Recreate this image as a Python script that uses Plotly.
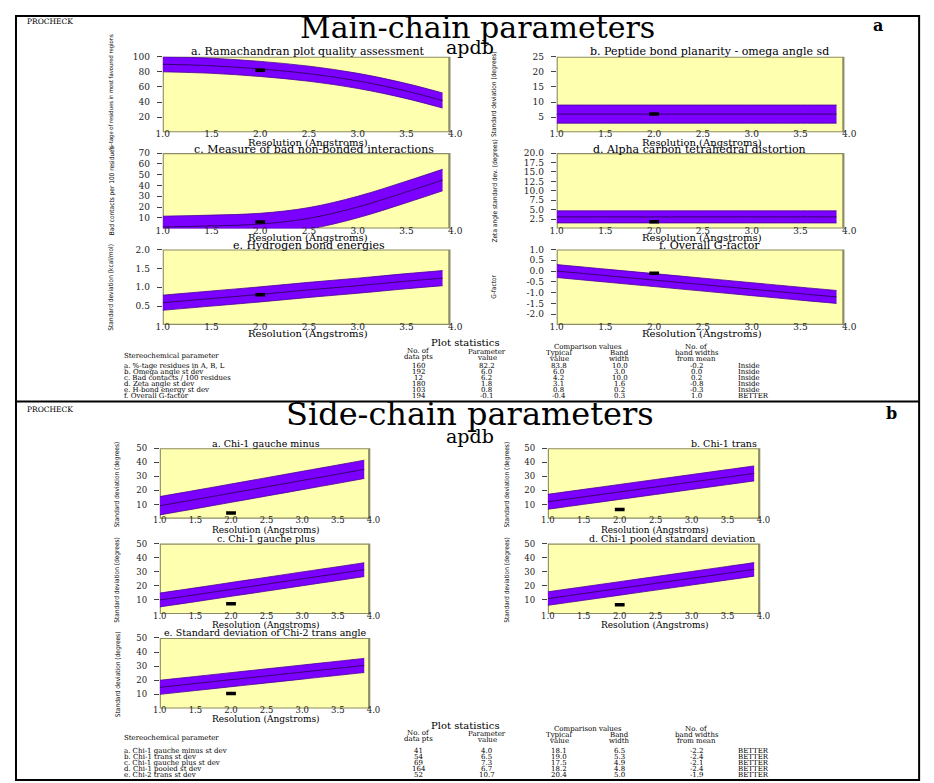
import plotly.graph_objects as go

# page (browser window) size and the plot placed inside the default 8px body margin
PAGE_W, PAGE_H = 934, 783
OX, OY = 8, 8
FW, FH = PAGE_W - OX, PAGE_H - OY

# ---------------- data ----------------
resolution = [1.0, 1.5, 2.0, 2.5, 3.0, 3.5, 3.87]
x_ticks = [1.0, 1.5, 2.0, 2.5, 3.0, 3.5, 4.0]
x_tick_labels = ["1.0", "1.5", "2.0", "2.5", "3.0", "3.5", "4.0"]

# main-chain band centres (typical value vs resolution)
rama_centre = [90.0, 88.0, 83.8, 77.5, 68.0, 54.5, 42.0]
omega_centre = [6.0, 6.0, 6.0, 6.0, 6.0, 6.0, 6.0]
contacts_centre = [1.5, 2.5, 4.2, 9.5, 20.0, 34.0, 45.0]
zeta_centre = [3.1, 3.1, 3.1, 3.1, 3.1, 3.1, 3.1]
hbond_centre = [0.59, 0.70, 0.81, 0.93, 1.04, 1.16, 1.24]
gfactor_centre = [0.0, -0.21, -0.42, -0.63, -0.84, -1.05, -1.20]

# side-chain band centres
chi1_gminus_centre = [9.2, 13.6, 18.1, 22.6, 27.1, 31.6, 35.0]
chi1_trans_centre = [12.0, 15.5, 19.0, 22.5, 26.0, 29.5, 32.1]
chi1_gplus_centre = [10.0, 13.7, 17.5, 21.2, 25.0, 28.7, 31.5]
chi1_pooled_centre = [11.0, 14.6, 18.2, 21.8, 25.4, 29.0, 31.7]
chi2_trans_centre = [15.0, 17.7, 20.4, 23.1, 25.8, 28.5, 30.5]

# plot statistics tables
main_params = ["a. %-tage residues in A, B, L", "b. Omega angle st dev",
               "c. Bad contacts / 100 residues", "d. Zeta angle st dev",
               "e. H-bond energy st dev", "f. Overall G-factor"]
main_npts = [160, 192, 12, 180, 103, 194]
main_value = [82.2, 6.0, 6.2, 1.8, 0.8, -0.1]
main_typical = [83.8, 6.0, 4.2, 3.1, 0.8, -0.4]
main_bandwidth = [10.0, 3.0, 10.0, 1.6, 0.2, 0.3]
main_nbw = [-0.2, 0.0, 0.2, -0.8, -0.3, 1.0]
main_verdict = ["Inside", "Inside", "Inside", "Inside", "Inside", "BETTER"]

side_params = ["a. Chi-1 gauche minus st dev", "b. Chi-1 trans st dev",
               "c. Chi-1 gauche plus st dev", "d. Chi-1 pooled st dev",
               "e. Chi-2 trans st dev"]
side_npts = [41, 54, 69, 164, 52]
side_value = [4.0, 6.5, 7.3, 6.7, 10.7]
side_typical = [18.1, 19.0, 17.5, 18.2, 20.4]
side_bandwidth = [6.5, 5.3, 4.9, 4.8, 5.0]
side_nbw = [-2.2, -2.4, -2.1, -2.4, -1.9]
side_verdict = ["BETTER", "BETTER", "BETTER", "BETTER", "BETTER"]

# ---------------- styling ----------------
SERIF = "DejaVu Serif, Liberation Serif, serif"
COND = "DejaVu Sans Condensed, Liberation Sans Narrow, Liberation Sans, sans-serif"
YELLOW = "#FFFFB0"
BORDER = "#8C8C66"
BAND = "#7B00FF"
EDGE = "#4A0099"
CENTRE = "#25004A"
BOX_END = 3.94


def fx(px):
    return (px - OX) / FW


def fy(py):
    return 1 - (py - OY) / FH


panels = [
    # main chain
    dict(xd=(158, 455), yd=(52, 128), yr=[0, 100], yt=[20, 40, 60, 80, 100],
         ytt=["20", "40", "60", "80", "100"], c=rama_centre, bw=main_bandwidth[0], v=main_value[0],
         st="a. Ramachandran plot quality assessment", sp=(305, 47), ss=11,
         yl="%-tage of residues in most favoured regions", ylp=(106, 88), yls=5.8,
         xlp=(306, 138), xls=10, tfs=9),
    dict(xd=(558, 855), yd=(52, 128), yr=[0, 25], yt=[5, 10, 15, 20, 25],
         ytt=["5", "10", "15", "20", "25"], c=omega_centre, bw=main_bandwidth[1], v=main_value[1],
         st="b. Peptide bond planarity - omega angle sd", sp=(713, 47), ss=11,
         yl="Standard deviation (degrees)", ylp=(495, 90), yls=6.5,
         xlp=(706, 138), xls=10, tfs=9),
    dict(xd=(158, 455), yd=(149, 225), yr=[0, 70], yt=[10, 20, 30, 40, 50, 60, 70],
         ytt=["10", "20", "30", "40", "50", "60", "70"], c=contacts_centre, bw=main_bandwidth[2], v=main_value[2],
         st="c. Measure of bad non-bonded interactions", sp=(312, 145), ss=11,
         yl="Bad contacts per 100 residues", ylp=(106, 187), yls=6.5,
         xlp=(306, 234), xls=10, tfs=9),
    dict(xd=(558, 855), yd=(149, 225), yr=[0, 20], yt=[2.5, 5, 7.5, 10, 12.5, 15, 17.5, 20],
         ytt=["2.5", "5.0", "7.5", "10.0", "12.5", "15.0", "17.5", "20.0"], c=zeta_centre,
         bw=main_bandwidth[3], v=main_value[3],
         st="d. Alpha carbon tetrahedral distortion", sp=(703, 145), ss=11,
         yl="Zeta angle standard dev. (degrees)", ylp=(495, 187), yls=6.5,
         xlp=(706, 234), xls=10, tfs=9),
    dict(xd=(158, 455), yd=(246, 322), yr=[0, 2.0], yt=[0.5, 1.0, 1.5, 2.0],
         ytt=["0.5", "1.0", "1.5", "2.0"], c=hbond_centre, bw=main_bandwidth[4], v=main_value[4],
         st="e. Hydrogen bond energies", sp=(307, 242), ss=11,
         yl="Standard deviation (kcal/mol)", ylp=(106, 284), yls=6.5,
         xlp=(306, 331), xls=10, tfs=9),
    dict(xd=(558, 855), yd=(246, 322), yr=[-2.5, 1.0], yt=[-2.0, -1.5, -1.0, -0.5, 0.0, 0.5, 1.0],
         ytt=["-2.0", "-1.5", "-1.0", "-0.5", "0.0", "0.5", "1.0"], c=gfactor_centre,
         bw=main_bandwidth[5], v=main_value[5],
         st="f. Overall G-factor", sp=(713, 242), ss=11,
         yl="G-factor", ylp=(495, 284), yls=6.5,
         xlp=(706, 331), xls=10, tfs=9),
    # side chain
    dict(xd=(155, 372), yd=(446, 517), yr=[0, 50], yt=[10, 20, 30, 40, 50],
         ytt=["10", "20", "30", "40", "50"], c=chi1_gminus_centre, bw=side_bandwidth[0], v=side_value[0],
         st="a. Chi-1 gauche minus", sp=(263, 441), ss=9.5,
         yl="Standard deviation (degrees)", ylp=(112, 482), yls=6.5,
         xlp=(263, 528), xls=9, tfs=8.5),
    dict(xd=(549, 768), yd=(446, 517), yr=[0, 50], yt=[10, 20, 30, 40, 50],
         ytt=["10", "20", "30", "40", "50"], c=chi1_trans_centre, bw=side_bandwidth[1], v=side_value[1],
         st="b. Chi-1 trans", sp=(728, 441), ss=9.5,
         yl="Standard deviation (degrees)", ylp=(508, 482), yls=6.5,
         xlp=(658, 528), xls=9, tfs=8.5),
    dict(xd=(155, 372), yd=(542, 613), yr=[0, 50], yt=[10, 20, 30, 40, 50],
         ytt=["10", "20", "30", "40", "50"], c=chi1_gplus_centre, bw=side_bandwidth[2], v=side_value[2],
         st="c. Chi-1 gauche plus", sp=(263, 537), ss=9.5,
         yl="Standard deviation (degrees)", ylp=(112, 578), yls=6.5,
         xlp=(263, 624), xls=9, tfs=8.5),
    dict(xd=(549, 768), yd=(542, 613), yr=[0, 50], yt=[10, 20, 30, 40, 50],
         ytt=["10", "20", "30", "40", "50"], c=chi1_pooled_centre, bw=side_bandwidth[3], v=side_value[3],
         st="d. Chi-1 pooled standard deviation", sp=(675, 537), ss=9.5,
         yl="Standard deviation (degrees)", ylp=(508, 578), yls=6.5,
         xlp=(658, 624), xls=9, tfs=8.5),
    dict(xd=(155, 372), yd=(637, 708), yr=[0, 50], yt=[10, 20, 30, 40, 50],
         ytt=["10", "20", "30", "40", "50"], c=chi2_trans_centre, bw=side_bandwidth[4], v=side_value[4],
         st="e. Standard deviation of Chi-2 trans angle", sp=(262, 632), ss=9.5,
         yl="Standard deviation (degrees)", ylp=(112, 673), yls=6.5,
         xlp=(263, 719), xls=9, tfs=8.5),
]

fig = go.Figure()
annotations = []
shapes = []
layout_axes = {}


def txt(s, x, y, size, family=SERIF, xanchor="center", angle=0, color="black"):
    annotations.append(dict(text=s, x=fx(x), y=fy(y), xref="paper", yref="paper",
                            xanchor=xanchor, yanchor="middle", showarrow=False,
                            textangle=angle, font=dict(family=family, size=size, color=color)))


for i, p in enumerate(panels, start=1):
    xa = "x" if i == 1 else f"x{i}"
    ya = "y" if i == 1 else f"y{i}"
    upper = [c + p["bw"] for c in p["c"]]
    lower = [c - p["bw"] for c in p["c"]]
    common = dict(xaxis=xa, yaxis=ya, showlegend=False, hoverinfo="skip")
    fig.add_trace(go.Scatter(x=resolution, y=lower, mode="lines",
                             line=dict(color=EDGE, width=0.8, shape="spline"), **common))
    fig.add_trace(go.Scatter(x=resolution, y=upper, mode="lines", fill="tonexty", fillcolor=BAND,
                             line=dict(color=EDGE, width=0.8, shape="spline"), **common))
    fig.add_trace(go.Scatter(x=resolution, y=p["c"], mode="lines",
                             line=dict(color=CENTRE, width=0.8, shape="spline"), **common))
    fig.add_trace(go.Scatter(x=[2.0], y=[p["v"]], mode="markers",
                             marker=dict(symbol="line-ew", size=7, color="black",
                                         line=dict(color="black", width=3.5)), **common))
    shapes.append(dict(type="rect", xref=xa, yref=ya, x0=1.0, x1=BOX_END, y0=p["yr"][0], y1=p["yr"][1],
                       fillcolor=YELLOW, line=dict(color=BORDER, width=2.2), layer="below"))
    xkey = "xaxis" if i == 1 else f"xaxis{i}"
    ykey = "yaxis" if i == 1 else f"yaxis{i}"
    layout_axes[xkey] = dict(domain=[fx(p["xd"][0]), fx(p["xd"][1])], range=[1.0, 4.0], anchor=ya,
                             tickvals=x_ticks, ticktext=x_tick_labels, ticks="", showgrid=False,
                             zeroline=False, showline=False, fixedrange=True, ticklabelstandoff=-5,
                             tickfont=dict(family=SERIF, size=p["tfs"], color="#222"))
    layout_axes[ykey] = dict(domain=[fy(p["yd"][1]), fy(p["yd"][0])], range=p["yr"], anchor=xa,
                             tickvals=p["yt"], ticktext=p["ytt"], ticks="outside", ticklen=5,
                             tickcolor="#444", tickwidth=1, showgrid=False, zeroline=False,
                             showline=False, fixedrange=True, ticklabelstandoff=5,
                             tickfont=dict(family=SERIF, size=p["tfs"], color="#222"))
    txt(p["st"], p["sp"][0], p["sp"][1], p["ss"])
    txt(p["yl"], p["ylp"][0], p["ylp"][1], p["yls"], family=COND, angle=-90)
    txt("Resolution (Angstroms)", p["xlp"][0], p["xlp"][1], p["xls"])

# ---------------- headings ----------------
txt("PROCHECK", 18, 17, 7.5, xanchor="left")
txt("Main-chain parameters", 478, 23, 30)
txt("<b>a</b>", 884, 21, 16)
txt("apdb", 470, 42, 19)

txt("PROCHECK", 18, 407, 7.5, xanchor="left")
txt("Side-chain parameters", 470, 412, 32)
txt("<b>b</b>", 898, 411, 16)
txt("apdb", 470, 434, 19)

# ---------------- tables ----------------
COLS = dict(npts=418, value=487, typical=560, bw=622, nbw=700, verdict=740)
TS = 7


def table(top, params, npts, value, typical, bw, nbw, verdict, row0, dy):
    txt("Plot statistics", 465, top, 10)
    txt("Comparison values", 590, top + 4, TS)
    txt("No. of", COLS["nbw"], top + 4, TS)
    txt("band widths", COLS["nbw"], top + 10, TS)
    txt("from mean", COLS["nbw"], top + 16, TS)
    txt("No. of", COLS["npts"], top + 8, TS)
    txt("data pts", COLS["npts"], top + 14, TS)
    txt("Parameter", COLS["value"], top + 9, TS)
    txt("value", COLS["value"], top + 15, TS)
    txt("Typical", COLS["typical"], top + 10, TS)
    txt("value", COLS["typical"], top + 16, TS)
    txt("Band", COLS["bw"], top + 10, TS)
    txt("width", COLS["bw"], top + 16, TS)
    txt("Stereochemical parameter", 117, top + 13, TS, xanchor="left")
    for k in range(len(params)):
        y = row0 + k * dy
        txt(params[k], 117, y, TS, xanchor="left")
        txt(str(npts[k]), COLS["npts"], y, TS)
        txt(f"{value[k]:.1f}", COLS["value"], y, TS)
        txt(f"{typical[k]:.1f}", COLS["typical"], y, TS)
        txt(f"{bw[k]:.1f}", COLS["bw"], y, TS)
        txt(f"{nbw[k]:.1f}", COLS["nbw"], y, TS)
        txt(verdict[k], COLS["verdict"], y, TS, xanchor="left")


table(340, main_params, main_npts, main_value, main_typical, main_bandwidth, main_nbw,
      main_verdict, 363, 6.0)
table(725, side_params, side_npts, side_value, side_typical, side_bandwidth, side_nbw,
      side_verdict, 751, 6.0)

# ---------------- frame ----------------
shapes.append(dict(type="rect", xref="paper", yref="paper", x0=fx(9), x1=fx(926), y0=fy(780), y1=fy(11),
                   line=dict(color="black", width=2), fillcolor="rgba(0,0,0,0)", layer="above"))
shapes.append(dict(type="line", xref="paper", yref="paper", x0=fx(9), x1=fx(926), y0=fy(399), y1=fy(399),
                   line=dict(color="black", width=2), layer="above"))

fig.update_layout(width=FW, height=FH, autosize=False, margin=dict(l=0, r=0, t=0, b=0),
                  paper_bgcolor="white", plot_bgcolor="white", showlegend=False,
                  annotations=annotations, shapes=shapes, **layout_axes)

fig.write_html("out.html")
